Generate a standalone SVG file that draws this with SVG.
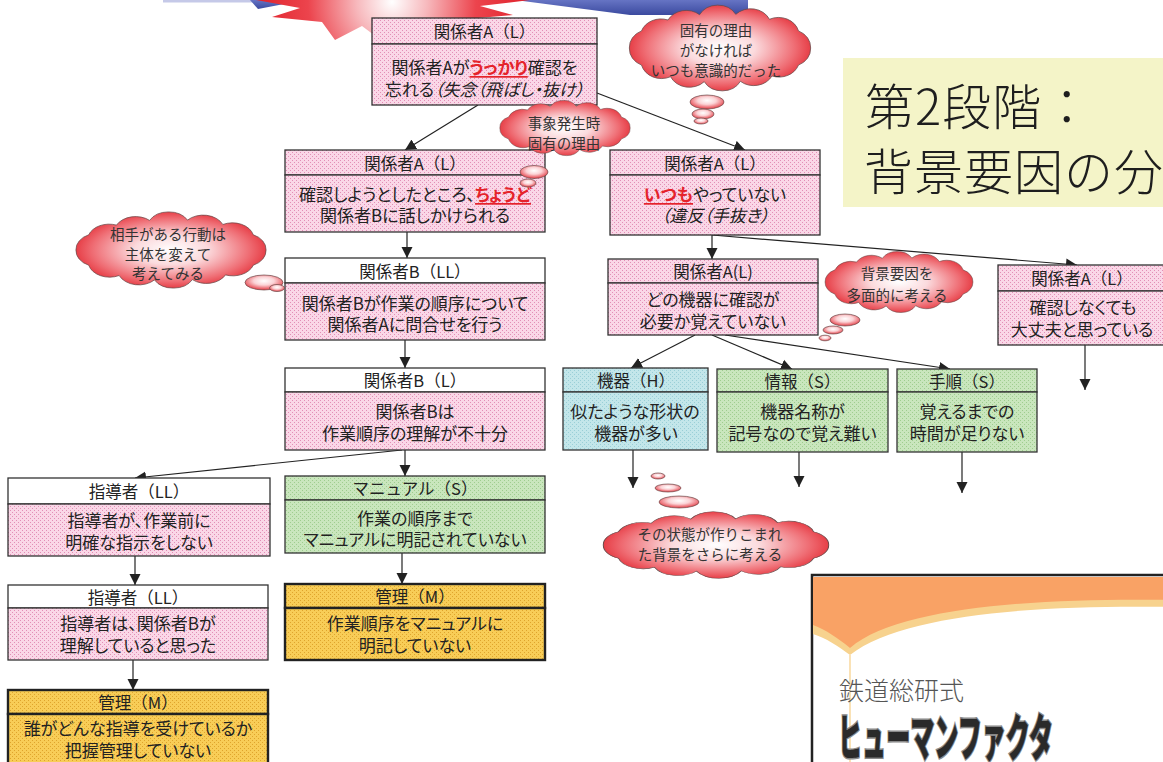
<svg xmlns="http://www.w3.org/2000/svg" width="1163" height="762" viewBox="0 0 1163 762">
<defs>
  <pattern id="pk" width="4" height="4" patternUnits="userSpaceOnUse">
    <rect width="4" height="4" fill="#fad7e7"/>
    <rect x="0" y="0" width="1" height="1" fill="#e28fb6"/>
    <rect x="2" y="2" width="1" height="1" fill="#e28fb6"/>
  </pattern>
  <pattern id="gr" width="4" height="4" patternUnits="userSpaceOnUse">
    <rect width="4" height="4" fill="#c9e6bd"/>
    <rect x="0" y="0" width="1" height="1" fill="#9fcd8f"/>
    <rect x="2" y="2" width="1" height="1" fill="#9fcd8f"/>
  </pattern>
  <pattern id="bl" width="4" height="4" patternUnits="userSpaceOnUse">
    <rect width="4" height="4" fill="#c3e6ea"/>
    <rect x="0" y="0" width="1" height="1" fill="#9acfd7"/>
    <rect x="2" y="2" width="1" height="1" fill="#9acfd7"/>
  </pattern>
  <pattern id="or" width="4" height="4" patternUnits="userSpaceOnUse">
    <rect width="4" height="4" fill="#f8cd57"/>
    <rect x="0" y="0" width="1" height="1" fill="#dfa42c"/>
    <rect x="2" y="2" width="1" height="1" fill="#dfa42c"/>
  </pattern>
  <radialGradient id="cloudFill" cx="0.5" cy="0.5" r="0.55">
    <stop offset="0" stop-color="#ffffff"/>
    <stop offset="0.35" stop-color="#fbdadd"/>
    <stop offset="0.75" stop-color="#ef6d74"/>
    <stop offset="1" stop-color="#e2252e"/>
  </radialGradient>
  <radialGradient id="bubFill" cx="0.5" cy="0.4" r="0.6">
    <stop offset="0" stop-color="#ffffff"/>
    <stop offset="0.45" stop-color="#fbd3d6"/>
    <stop offset="1" stop-color="#e43a43"/>
  </radialGradient>
  <radialGradient id="burst" gradientUnits="userSpaceOnUse" cx="392" cy="2" r="140">
    <stop offset="0" stop-color="#ffffff"/>
    <stop offset="0.25" stop-color="#f7b9bd"/>
    <stop offset="0.6" stop-color="#ec444d"/>
    <stop offset="1" stop-color="#df2029"/>
  </radialGradient>
  <linearGradient id="blueBand" x1="0" y1="0" x2="0" y2="1">
    <stop offset="0" stop-color="#6674c4"/>
    <stop offset="1" stop-color="#3b4a9f"/>
  </linearGradient>
  <path id="cloud" d="M188,50 A20,20 0 0 1 176.2,69 A20,20 0 0 1 150.5,81.1 A20,20 0 0 1 119.8,87 A20,20 0 0 1 84.7,87.4 A20,20 0 0 1 52,81.9 A20,20 0 0 1 23.8,69 A20,20 0 0 1 12,50 A20,20 0 0 1 23.8,31 A20,20 0 0 1 49.5,18.9 A20,20 0 0 1 80.2,13 A20,20 0 0 1 115.3,12.6 A20,20 0 0 1 148,18.1 A20,20 0 0 1 176.2,31 A20,20 0 0 1 188,50 Z"/>
  <marker id="ah" markerUnits="userSpaceOnUse" markerWidth="12" markerHeight="12" refX="11" refY="6" orient="auto">
    <path d="M0,0.5 L11,6 L0,11.5 Z" fill="#222"/>
  </marker>
</defs>
<style>
  .bx { stroke: #333; stroke-width: 1.3; }
  .mg { stroke: #222; stroke-width: 2.4; }
  .t { font-family: "Noto Sans CJK JP", "Noto Sans CJK SC", sans-serif; font-size: 17px; fill: #222; text-anchor: middle; dominant-baseline: central; font-feature-settings: "palt"; }
  .h { font-family: "Noto Sans CJK JP", "Noto Sans CJK SC", sans-serif; font-size: 16.5px; fill: #222; text-anchor: middle; dominant-baseline: central; }
  .em { fill: #e5232b; font-weight: bold; text-decoration: underline; }
  .it { font-style: italic; }
  .ct { font-family: "Noto Sans CJK JP", "Noto Sans CJK SC", sans-serif; font-size: 14.5px; fill: #333; text-anchor: middle; dominant-baseline: central; }
  .cl { fill: url(#cloudFill); stroke: #6a4a4a; stroke-width: 0.8; }
  .bb { fill: url(#bubFill); stroke: #6a4a4a; stroke-width: 0.7; }
  .cn { fill: none; stroke: #222; stroke-width: 1.2; marker-end: url(#ah); }
  .ttl { font-family: "Noto Sans CJK JP", "Noto Sans CJK SC", sans-serif; font-size: 49px; font-weight: 300; letter-spacing: 1px; fill: #1e1e1e; }
</style>

<!-- banner remnants along the top edge -->
<g id="banner">
  <rect x="163" y="0" width="92" height="2.5" fill="#c5c9e8"/>
  <polygon points="250,0 305,0 258,9" fill="url(#blueBand)"/>
  <polygon points="515,0 748,0 748,15 630,15" fill="url(#blueBand)"/>
  <polygon points="245,-2 300,8 272,17 322,22 335,40 362,26 378,38 420,40 470,30 478,18 513,15 480,6 530,0 530,-10 245,-10" fill="url(#burst)"/>
</g>

<!-- title panel -->
<g id="title">
  <rect x="843" y="58" width="330" height="149" fill="#f4f4c8"/>
  <text class="ttl" x="865" y="125">第2段階：</text>
  <text class="ttl" x="864" y="190">背景要因の分</text>
</g>

<!-- book cover -->
<g id="cover">
  <rect x="812" y="575" width="360" height="200" fill="#ffffff" stroke="#222" stroke-width="2.5"/>
  <path d="M813,577 H1172 V607 C1050,605 905,612 850,655 C838,646 826,638 813,634 Z" fill="#f7d28e"/>
  <path d="M813,577 H1172 V600 C1050,598 900,605 850,648 C838,638 826,630 813,625 Z" fill="#f9a265"/>
  <line x1="850" y1="655" x2="850" y2="762" stroke="#f7d28e" stroke-width="1.3"/>
  <text x="839" y="700" font-family="'Noto Sans CJK JP', sans-serif" font-size="25" font-weight="300" fill="#555">鉄道総研式</text>
  <text x="838" y="756" font-family="'Noto Sans CJK JP', sans-serif" font-size="50" font-weight="900" fill="#2a2a2a" stroke="#8a8a8a" stroke-width="3" paint-order="stroke" textLength="215" lengthAdjust="spacingAndGlyphs">ヒューマンファクタ</text>
</g>

<!-- connectors -->
<g id="connectors">
  <line class="cn" x1="478" y1="105" x2="405" y2="150"/>
  <line class="cn" x1="597" y1="93" x2="745" y2="150"/>
  <line class="cn" x1="407" y1="232" x2="407" y2="258"/>
  <line class="cn" x1="405" y1="340" x2="405" y2="368"/>
  <line class="cn" x1="402" y1="450" x2="135" y2="478"/>
  <line class="cn" x1="405" y1="450" x2="405" y2="476"/>
  <line class="cn" x1="135" y1="556" x2="135" y2="585"/>
  <line class="cn" x1="402" y1="553" x2="402" y2="584"/>
  <line class="cn" x1="133" y1="660" x2="133" y2="690"/>
  <line class="cn" x1="712" y1="235" x2="712" y2="259"/>
  <line class="cn" x1="712" y1="235" x2="1077" y2="265"/>
  <line class="cn" x1="695" y1="335" x2="631" y2="368"/>
  <line class="cn" x1="712" y1="335" x2="792" y2="369"/>
  <line class="cn" x1="725" y1="335" x2="950" y2="369"/>
  <line class="cn" x1="633" y1="450" x2="633" y2="488"/>
  <line class="cn" x1="799" y1="452" x2="799" y2="487"/>
  <line class="cn" x1="962" y1="452" x2="962" y2="493"/>
  <line class="cn" x1="1085" y1="345" x2="1085" y2="390"/>
</g>

<!-- nodes -->
<g id="n1">
  <rect class="bx" x="372" y="18" width="225" height="26" fill="url(#pk)"/>
  <rect class="bx" x="372" y="44" width="225" height="61" fill="url(#pk)"/>
  <text class="h" x="484.5" y="31">関係者A（L）</text>
  <text class="t" x="484.5" y="66">関係者Aが<tspan class="em">うっかり</tspan>確認を</text>
  <text class="t" x="484.5" y="88">忘れる<tspan class="it">（失念（飛ばし・抜け）</tspan></text>
</g>
<g id="n2">
  <rect class="bx" x="285" y="150" width="260" height="25" fill="url(#pk)"/>
  <rect class="bx" x="285" y="175" width="260" height="57" fill="url(#pk)"/>
  <text class="h" x="415" y="162.5">関係者A（L）</text>
  <text class="t" x="415" y="193">確認しようとしたところ、<tspan class="em">ちょうど</tspan></text>
  <text class="t" x="415" y="214">関係者Bに話しかけられる</text>
</g>
<g id="n3">
  <rect class="bx" x="610" y="150" width="210" height="25" fill="url(#pk)"/>
  <rect class="bx" x="610" y="175" width="210" height="60" fill="url(#pk)"/>
  <text class="h" x="715" y="162.5">関係者A（L）</text>
  <text class="t" x="715" y="193"><tspan class="em">いつも</tspan>やっていない</text>
  <text class="t it" x="715" y="214">（違反（手抜き）</text>
</g>
<g id="n4">
  <rect class="bx" x="285" y="258" width="260" height="25" fill="#ffffff"/>
  <rect class="bx" x="285" y="283" width="260" height="57" fill="url(#pk)"/>
  <text class="h" x="415" y="270.5">関係者B（LL）</text>
  <text class="t" x="415" y="302">関係者Bが作業の順序について</text>
  <text class="t" x="415" y="323">関係者Aに問合せを行う</text>
</g>
<g id="n5">
  <rect class="bx" x="608" y="259" width="210" height="24" fill="url(#pk)"/>
  <rect class="bx" x="608" y="283" width="210" height="52" fill="url(#pk)"/>
  <text class="h" x="713" y="271">関係者A(L)</text>
  <text class="t" x="713" y="298">どの機器に確認が</text>
  <text class="t" x="713" y="320">必要か覚えていない</text>
</g>
<g id="n6">
  <rect class="bx" x="998" y="265" width="180" height="26" fill="url(#pk)"/>
  <rect class="bx" x="998" y="291" width="180" height="54" fill="url(#pk)"/>
  <text class="h" x="1082" y="278">関係者A（L）</text>
  <text class="t" x="1083" y="306">確認しなくても</text>
  <text class="t" x="1082" y="328">大丈夫と思っている</text>
</g>
<g id="n7">
  <rect class="bx" x="285" y="368" width="260" height="24" fill="#ffffff"/>
  <rect class="bx" x="285" y="392" width="260" height="58" fill="url(#pk)"/>
  <text class="h" x="415" y="380">関係者B（L）</text>
  <text class="t" x="415" y="410">関係者Bは</text>
  <text class="t" x="415" y="432">作業順序の理解が不十分</text>
</g>
<g id="n8">
  <rect class="bx" x="563" y="368" width="145" height="24" fill="url(#bl)"/>
  <rect class="bx" x="563" y="392" width="145" height="58" fill="url(#bl)"/>
  <text class="h" x="636" y="380">機器（H）</text>
  <text class="t" x="635" y="410">似たような形状の</text>
  <text class="t" x="636" y="432">機器が多い</text>
</g>
<g id="n9">
  <rect class="bx" x="717" y="369" width="171" height="23" fill="url(#gr)"/>
  <rect class="bx" x="717" y="392" width="171" height="60" fill="url(#gr)"/>
  <text class="h" x="802.5" y="380.5">情報（S）</text>
  <text class="t" x="802.5" y="410">機器名称が</text>
  <text class="t" x="802.5" y="432">記号なので覚え難い</text>
</g>
<g id="n10">
  <rect class="bx" x="897" y="369" width="140" height="23" fill="url(#gr)"/>
  <rect class="bx" x="897" y="392" width="140" height="60" fill="url(#gr)"/>
  <text class="h" x="967" y="380.5">手順（S）</text>
  <text class="t" x="967" y="410">覚えるまでの</text>
  <text class="t" x="967" y="432">時間が足りない</text>
</g>
<g id="n11">
  <rect class="bx" x="8" y="478" width="262" height="26" fill="#ffffff"/>
  <rect class="bx" x="8" y="504" width="262" height="52" fill="url(#pk)"/>
  <text class="h" x="139" y="491">指導者（LL）</text>
  <text class="t" x="139" y="519">指導者が、作業前に</text>
  <text class="t" x="139" y="541">明確な指示をしない</text>
</g>
<g id="n12">
  <rect class="bx" x="285" y="476" width="260" height="24" fill="url(#gr)"/>
  <rect class="bx" x="285" y="500" width="260" height="53" fill="url(#gr)"/>
  <text class="h" x="415" y="488">マニュアル（S）</text>
  <text class="t" x="415" y="517">作業の順序まで</text>
  <text class="t" x="415" y="538">マニュアルに明記されていない</text>
</g>
<g id="n13">
  <rect class="bx" x="8" y="585" width="260" height="23" fill="#ffffff"/>
  <rect class="bx" x="8" y="608" width="260" height="52" fill="url(#pk)"/>
  <text class="h" x="138" y="596.5">指導者（LL）</text>
  <text class="t" x="138" y="622">指導者は、関係者Bが</text>
  <text class="t" x="138" y="644">理解していると思った</text>
</g>
<g id="n14">
  <rect class="mg" x="285" y="584" width="260" height="24" fill="url(#or)"/>
  <rect class="mg" x="285" y="608" width="260" height="52" fill="url(#or)"/>
  <text class="h" x="415" y="596">管理（M）</text>
  <text class="t" x="415" y="622">作業順序をマニュアルに</text>
  <text class="t" x="415" y="644">明記していない</text>
</g>
<g id="n15">
  <rect class="mg" x="8" y="690" width="260" height="24" fill="url(#or)"/>
  <rect class="mg" x="8" y="714" width="260" height="60" fill="url(#or)"/>
  <text class="h" x="138" y="702">管理（M）</text>
  <text class="t" x="138" y="727">誰がどんな指導を受けているか</text>
  <text class="t" x="138" y="749">把握管理していない</text>
</g>

<!-- thought clouds -->
<g id="cloud1">
  <use href="#cloud" class="cl" vector-effect="non-scaling-stroke" transform="translate(617,3) scale(1.03,0.9)"/>
  <ellipse class="bb" cx="707" cy="102" rx="17" ry="7"/>
  <ellipse class="bb" cx="703" cy="114" rx="11" ry="5"/>
  <ellipse class="bb" cx="701" cy="121" rx="7" ry="3"/>
  <text class="ct" x="716" y="29">固有の理由</text>
  <text class="ct" x="716" y="49">がなければ</text>
  <text class="ct" x="716" y="69">いつも意識的だった</text>
</g>
<g id="cloud2">
  <use href="#cloud" class="cl" vector-effect="non-scaling-stroke" transform="translate(491,99) scale(0.74,0.58)"/>
  <ellipse class="bb" cx="534" cy="172" rx="14" ry="6.5"/>
  <ellipse class="bb" cx="528" cy="183" rx="8" ry="4"/>
  <text class="ct" x="564" y="122">事象発生時</text>
  <text class="ct" x="564" y="142">固有の理由</text>
</g>
<g id="cloud3">
  <use href="#cloud" class="cl" vector-effect="non-scaling-stroke" transform="translate(63,210) scale(1.08,0.8)"/>
  <ellipse class="bb" cx="264" cy="282.5" rx="19" ry="7.5"/>
  <ellipse class="bb" cx="277" cy="288" rx="7.5" ry="3.5"/>
  <text class="ct" x="168" y="233">相手がある行動は</text>
  <text class="ct" x="168" y="253">主体を変えて</text>
  <text class="ct" x="168" y="272">考えてみる</text>
</g>
<g id="cloud4">
  <use href="#cloud" class="cl" vector-effect="non-scaling-stroke" transform="translate(815,250) scale(0.84,0.64)"/>
  <ellipse class="bb" cx="845" cy="320" rx="15" ry="6"/>
  <ellipse class="bb" cx="833" cy="330" rx="10" ry="4"/>
  <ellipse class="bb" cx="825" cy="338" rx="6" ry="2.8"/>
  <text class="ct" x="897" y="272">背景要因を</text>
  <text class="ct" x="897" y="294">多面的に考える</text>
</g>
<g id="cloud5">
  <ellipse class="bb" cx="658" cy="476" rx="7" ry="3"/>
  <ellipse class="bb" cx="668" cy="488" rx="13" ry="4"/>
  <ellipse class="bb" cx="679" cy="502" rx="20" ry="6"/>
  <use href="#cloud" class="cl" vector-effect="non-scaling-stroke" transform="translate(588,510) scale(1.28,0.7)"/>
  <text class="ct" x="710" y="533">その状態が作りこまれ</text>
  <text class="ct" x="710" y="553">た背景をさらに考える</text>
</g>
</svg>
